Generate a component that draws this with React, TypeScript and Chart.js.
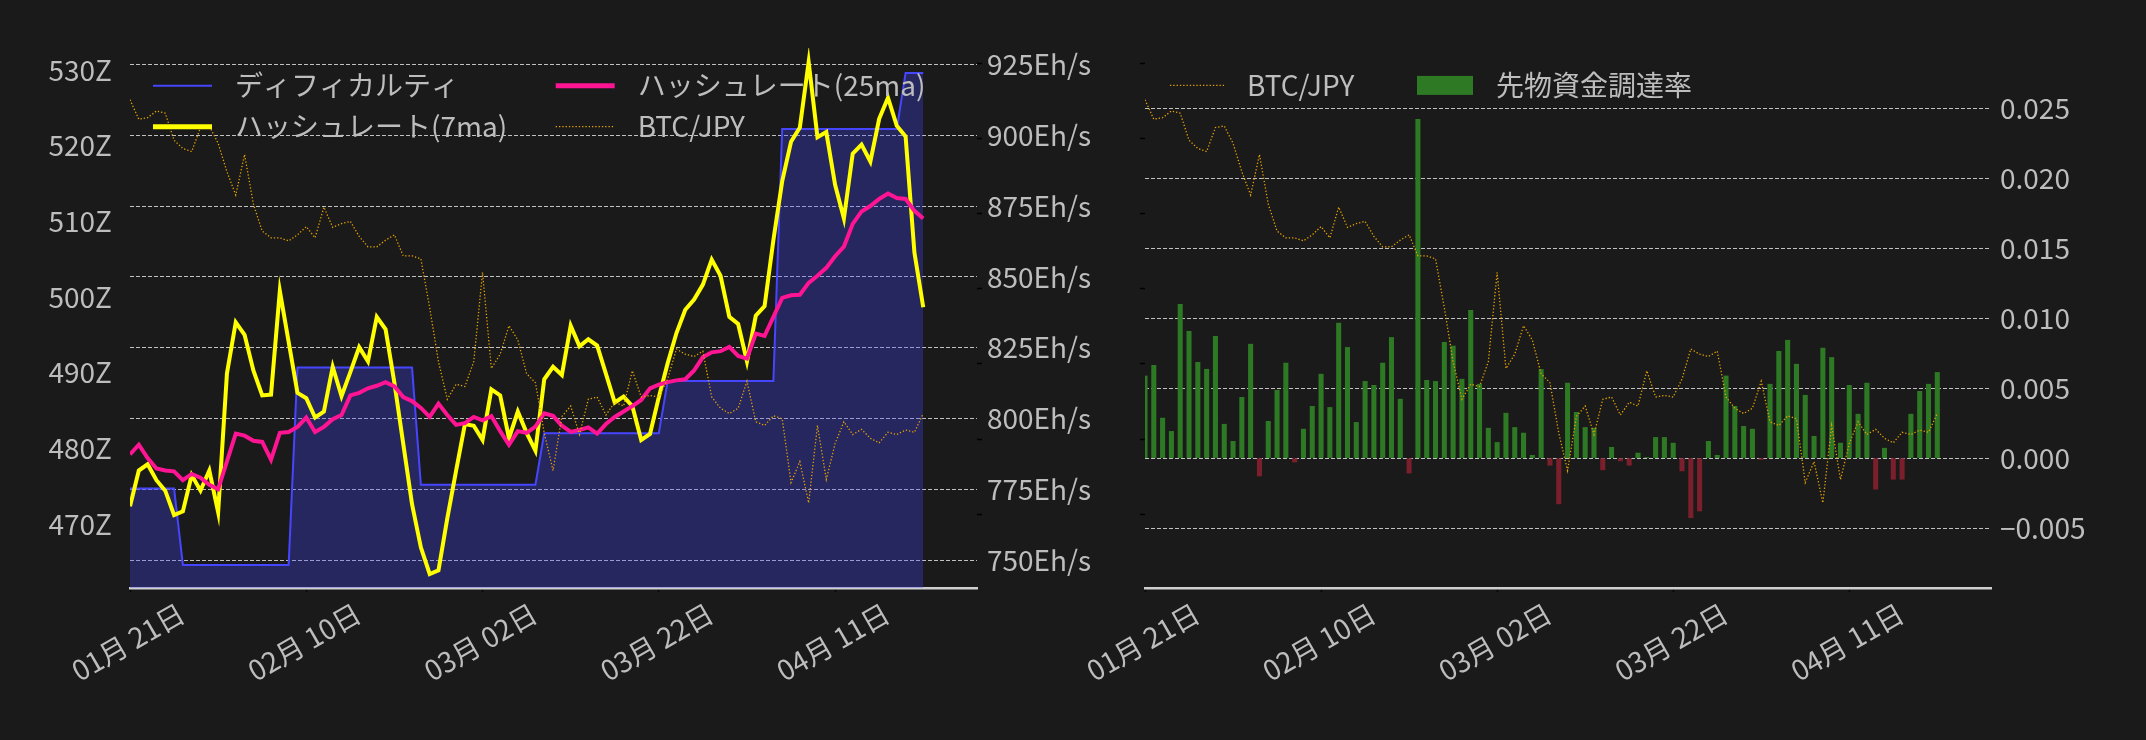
import { useEffect, useRef } from "react";
import Chart from "chart.js/auto";

// x values are days counted from 01/21
const xTickDays = [0, 20, 40, 60, 80];
const xTickLabels = ["01月 21日", "02月 10日", "03月 02日", "03月 22日", "04月 11日"];

// difficulty (Z)
const difficulty = [
  474.7, 474.7, 474.7, 474.7, 474.7, 474.7,
  464.6, 464.6, 464.6, 464.6, 464.6, 464.6, 464.6, 464.6, 464.6, 464.6, 464.6, 464.6, 464.6,
  490.7, 490.7, 490.7, 490.7, 490.7, 490.7, 490.7, 490.7, 490.7, 490.7, 490.7, 490.7, 490.7, 490.7,
  475.2, 475.2, 475.2, 475.2, 475.2, 475.2, 475.2, 475.2, 475.2, 475.2, 475.2, 475.2, 475.2, 475.2,
  482.0, 482.0, 482.0, 482.0, 482.0, 482.0, 482.0, 482.0, 482.0, 482.0, 482.0, 482.0, 482.0, 482.0,
  488.9, 488.9, 488.9, 488.9, 488.9, 488.9, 488.9, 488.9, 488.9, 488.9, 488.9, 488.9, 488.9,
  522.2, 522.2, 522.2, 522.2, 522.2, 522.2, 522.2, 522.2, 522.2, 522.2, 522.2, 522.2, 522.2, 522.2,
  529.6, 529.6, 529.6,
];

// hashrate 7 day average (Eh/s)
const hashrate7 = [
  769.1, 781.7, 783.9, 778.3, 774.6, 766.0, 767.3, 780.1, 774.6, 781.7,
  767.0, 816.0, 834.0, 829.6, 817.0, 808.2, 808.5, 845.1, 827.1, 809.1,
  807.2, 800.4, 802.5, 818.3, 807.9, 816.4, 825.2, 820.2, 835.9, 831.5,
  812.6, 791.2, 769.8, 754.6, 745.2, 746.5, 764.8, 781.7, 798.1, 797.5,
  792.5, 810.3, 808.2, 793.1, 802.5, 795.0, 788.7, 813.9, 818.3, 815.4,
  832.8, 825.5, 828.0, 825.8, 815.8, 805.7, 807.8, 804.4, 792.5, 794.6,
  807.6, 819.5, 830.2, 838.4, 842.0, 847.3, 856.1, 850.4, 835.9, 833.4,
  820.2, 836.3, 839.7, 863.0, 883.8, 897.7, 902.7, 925.8, 899.3, 901.1,
  882.5, 870.6, 893.5, 896.7, 890.7, 905.8, 913.2, 903.3, 899.5, 858.6,
  839.3,
];

// hashrate 25 day average (Eh/s)
const hashrate25 = [
  787.4, 790.8, 786.1, 782.4, 781.7, 781.4, 778.3, 780.5, 779.2, 776.7,
  775.1, 784.9, 794.7, 794.0, 792.2, 791.8, 785.5, 795.0, 795.3, 797.1,
  800.4, 795.3, 797.1, 799.8, 801.3, 808.2, 809.1, 810.7, 811.6, 812.9,
  811.4, 807.6, 806.2, 803.8, 800.6, 805.3, 801.3, 797.8, 798.4, 800.6,
  799.4, 800.9, 795.6, 790.8, 795.6, 795.0, 797.2, 801.9, 801.0, 797.5,
  795.3, 796.0, 796.9, 794.7, 798.1, 800.6, 802.5, 804.4, 806.6, 810.7,
  812.0, 812.9, 813.5, 813.9, 817.0, 821.7, 823.4, 823.8, 825.3, 822.1,
  821.2, 830.0, 829.2, 835.9, 842.6, 843.5, 843.7, 847.9, 850.4, 853.2,
  857.3, 860.7, 868.7, 873.1, 875.0, 877.5, 879.4, 877.8, 877.5, 873.3,
  870.6,
];

// BTC/JPY (million yen)
const btcJpy = [
  16.52, 16.26, 16.28, 16.37, 16.34, 15.98, 15.87, 15.83, 16.15, 16.17,
  15.94, 15.56, 15.25, 15.79, 15.13, 14.77, 14.68, 14.68, 14.64, 14.72,
  14.83, 14.68, 15.09, 14.82, 14.87, 14.9, 14.7, 14.56, 14.56, 14.65,
  14.72, 14.44, 14.44, 14.4, 13.75, 13.03, 12.53, 12.73, 12.7, 13.03,
  14.22, 12.94, 13.13, 13.51, 13.32, 12.87, 12.75, 12.08, 11.58, 12.3,
  12.44, 12.06, 12.53, 12.56, 12.32, 12.49, 12.44, 12.91, 12.56, 12.58,
  12.56, 12.8, 13.2, 13.13, 13.1, 13.17, 12.56, 12.41, 12.34, 12.41,
  12.77, 12.23, 12.18, 12.31, 12.27, 11.42, 11.7, 11.15, 12.18, 11.46,
  11.94, 12.23, 12.06, 12.13, 12.01, 11.95, 12.09, 12.06, 12.12, 12.09,
  12.34,
];

// futures funding rate
const fundingRate = [
  0.00587, 0.00663, 0.00286, 0.00191, 0.01099, 0.00906, 0.00684, 0.00635, 0.0087, 0.00242,
  0.0012, 0.00434, 0.00814, -0.00128, 0.00263, 0.00485, 0.00679, -0.00028, 0.00207, 0.0037,
  0.006, 0.00362, 0.00964, 0.00791, 0.00255, 0.00548, 0.0052, 0.00679, 0.00862, 0.00421,
  -0.00107, 0.02421, 0.00556, 0.00548, 0.00827, 0.00801, 0.00564, 0.01056, 0.00528, 0.00214,
  0.00112, 0.00321, 0.00219, 0.00179, 0.0002, 0.00633, -0.00051, -0.00327, 0.00536, 0.00327,
  0.00219, 0.00214, -0.00084, 0.00077, -0.0002, -0.00051, 0.00036, 0.00005, 0.00148, 0.00148,
  0.00107, -0.00092, -0.00426, -0.00378, 0.0012, 0.0002, 0.00587, 0.0037, 0.00227, 0.00207,
  -0.0001, 0.00528, 0.00763, 0.00842, 0.00671, 0.00449, 0.00156, 0.00786, 0.00719, 0.00107,
  0.0052, 0.00314, 0.00536, -0.00222, 0.00071, -0.00151, -0.00151, 0.00314, 0.00477, 0.00528,
  0.00612,
];

const diffTicks = [470, 480, 490, 500, 510, 520, 530];
const hashTicks = [750, 775, 800, 825, 850, 875, 900, 925];
const btcTicks = [11, 12, 13, 14, 15, 16, 17];
const fundingTicks = [-0.005, 0, 0.005, 0.01, 0.015, 0.02, 0.025];

const BG = "#1a1a1a";
const TEXT = "#bdbdbd";
const FONT = "'Noto Sans CJK JP', 'Noto Sans', sans-serif";
const FONT_SIZE = 28;
const GRID = "rgba(235,235,235,0.8)";
const BTC_COLOR = "#e8a200";
const GREEN = "#2e7a24";
const RED = "#7c1f2c";

const HEIGHT = 740;
const TOP = 48;
const BOTTOM = 588;
const X_MAX = 96.1;

const pts = (values: number[]) => values.map((y, x) => ({ x, y }));
const fixedTicks = (values: number[]) => (scale: any) => {
  scale.ticks = values.map((value) => ({ value }));
};

type LegendEntry = { text: string; kind: "line" | "dotted" | "patch"; color: string; width: number; dx: number; dy: number; len: number };

const makeLegend = (entries: LegendEntry[]) => ({
  id: "fixedLegend",
  afterDraw(chart: any) {
    const { ctx, chartArea } = chart;
    ctx.save();
    ctx.font = `${FONT_SIZE}px ${FONT}`;
    ctx.textBaseline = "middle";
    ctx.textAlign = "left";
    for (const e of entries) {
      const x = chartArea.left + e.dx;
      const y = chartArea.top + e.dy;
      if (e.kind === "patch") {
        ctx.fillStyle = e.color;
        ctx.fillRect(x, y - 9.5, e.len, 19);
      } else {
        ctx.strokeStyle = e.color;
        ctx.lineWidth = e.width;
        ctx.setLineDash(e.kind === "dotted" ? [1.3, 2] : []);
        ctx.beginPath();
        ctx.moveTo(x, y);
        ctx.lineTo(x + e.len, y);
        ctx.stroke();
        ctx.setLineDash([]);
      }
      ctx.fillStyle = TEXT;
      ctx.fillText(e.text, x + e.len + 23, y);
    }
    ctx.restore();
  },
});

const dateLabels = {
  id: "dateLabels",
  afterDraw(chart: any) {
    const { ctx, chartArea, scales } = chart;
    ctx.save();
    ctx.font = `${FONT_SIZE}px ${FONT}`;
    ctx.fillStyle = TEXT;
    ctx.textAlign = "center";
    ctx.textBaseline = "middle";
    xTickDays.forEach((d, k) => {
      ctx.save();
      ctx.translate(scales.x.getPixelForValue(d) - 2, chartArea.bottom + 54);
      ctx.rotate(-Math.PI / 6);
      ctx.fillText(xTickLabels[k], 0, 0);
      ctx.restore();
    });
    ctx.restore();
  },
};

const xScale = () => ({
  type: "linear" as const,
  min: 0,
  max: X_MAX,
  offset: false,
  afterBuildTicks: fixedTicks(xTickDays),
  ticks: { display: false },
  grid: { display: true, offset: false, drawOnChartArea: false, drawTicks: true, tickLength: 4, tickColor: "#050505", tickWidth: 1.5 },
  border: { display: true, color: "#cfcfcf", width: 2.5 },
  afterFit: (s: any) => {
    s.height = HEIGHT - BOTTOM;
  },
});

const tickFont = { family: FONT, size: FONT_SIZE };

const btcScale = (position: "left" | "right") => ({
  position,
  weight: 0,
  min: 10.016,
  max: 17.209,
  afterBuildTicks: fixedTicks(btcTicks),
  ticks: { display: false },
  grid: { display: true, drawOnChartArea: false, drawTicks: true, tickLength: 5, tickColor: "#000", tickWidth: 1.5 },
  border: { display: false },
  afterFit: (s: any) => {
    s.width = 0;
  },
});

function HashrateChart() {
  const ref = useRef<HTMLCanvasElement>(null);
  useEffect(() => {
    const ctx = ref.current?.getContext("2d");
    if (!ctx) return;
    const chart = new Chart(ctx, {
      type: "line",
      data: {
        datasets: [
          { label: "BTC/JPY", data: pts(btcJpy), yAxisID: "yBtc", borderColor: BTC_COLOR, borderWidth: 1.3, borderDash: [1.3, 2], pointRadius: 0, order: 0 },
          { label: "ハッシュレート(25ma)", data: pts(hashrate25), yAxisID: "yHash", borderColor: "#ff1493", borderWidth: 4, pointRadius: 0, order: 1 },
          { label: "ハッシュレート(7ma)", data: pts(hashrate7), yAxisID: "yHash", borderColor: "#ffff00", borderWidth: 4, pointRadius: 0, order: 2 },
          {
            label: "ディフィカルティ",
            data: pts(difficulty),
            yAxisID: "yDiff",
            borderColor: "#4646ff",
            borderWidth: 2,
            backgroundColor: "rgba(70,70,255,0.3)",
            fill: "start",
            pointRadius: 0,
            order: 3,
          },
        ],
      },
      options: {
        responsive: false,
        animation: false,
        devicePixelRatio: 1,
        layout: { padding: { top: TOP, left: 0, right: 0, bottom: 0 } },
        plugins: { legend: { display: false }, tooltip: { enabled: false } },
        scales: {
          x: xScale(),
          yDiff: {
            position: "left",
            min: 461.55,
            max: 532.9,
            afterBuildTicks: fixedTicks(diffTicks),
            ticks: { color: TEXT, font: tickFont, padding: 10, callback: (v: any) => `${v}Z` },
            grid: { display: false },
            border: { display: false },
            afterFit: (s: any) => {
              s.width = 130;
            },
          },
          yBtc: btcScale("right"),
          yHash: {
            position: "right",
            weight: 1,
            min: 740.26,
            max: 930.75,
            afterBuildTicks: fixedTicks(hashTicks),
            ticks: { color: TEXT, font: tickFont, padding: 10, callback: (v: any) => `${v}Eh/s` },
            grid: { color: GRID, lineWidth: 1, drawTicks: false },
            border: { display: false, dash: [4, 2] },
            afterFit: (s: any) => {
              s.width = 1110 - 977;
            },
          },
        },
      } as any,
      plugins: [
        makeLegend([
          { text: "ディフィカルティ", kind: "line", color: "#4646ff", width: 2, dx: 23, dy: 37.7, len: 59 },
          { text: "ハッシュレート(7ma)", kind: "line", color: "#ffff00", width: 5, dx: 23, dy: 78.7, len: 59 },
          { text: "ハッシュレート(25ma)", kind: "line", color: "#ff1493", width: 5, dx: 425.7, dy: 37.7, len: 59 },
          { text: "BTC/JPY", kind: "dotted", color: BTC_COLOR, width: 1.3, dx: 425.7, dy: 78.7, len: 59 },
        ]),
        dateLabels,
      ],
    });
    return () => chart.destroy();
  }, []);
  return <canvas ref={ref} width={1110} height={HEIGHT} style={{ position: "absolute", left: 0, top: 0 }} />;
}

function FundingChart() {
  const ref = useRef<HTMLCanvasElement>(null);
  useEffect(() => {
    const ctx = ref.current?.getContext("2d");
    if (!ctx) return;
    const chart = new Chart(ctx, {
      type: "bar",
      data: {
        datasets: [
          { type: "line", label: "BTC/JPY", data: pts(btcJpy), yAxisID: "yBtc", borderColor: BTC_COLOR, borderWidth: 1.3, borderDash: [1.3, 2], pointRadius: 0, order: 0 },
          {
            type: "bar",
            label: "先物資金調達率",
            data: pts(fundingRate),
            yAxisID: "yRate",
            backgroundColor: fundingRate.map((v) => (v >= 0 ? GREEN : RED)),
            barThickness: 4.4,
            order: 1,
          },
        ],
      },
      options: {
        responsive: false,
        animation: false,
        devicePixelRatio: 1,
        layout: { padding: { top: TOP, left: 72, right: 0, bottom: 0 } },
        plugins: { legend: { display: false }, tooltip: { enabled: false } },
        scales: {
          x: xScale(),
          yBtc: btcScale("left"),
          yRate: {
            position: "right",
            min: -0.00928,
            max: 0.0293,
            z: 1,
            afterBuildTicks: fixedTicks(fundingTicks),
            ticks: {
              color: TEXT,
              font: tickFont,
              padding: 9,
              callback: (v: any) => (v < 0 ? "\u2212" : "") + Math.abs(v).toFixed(3),
            },
            grid: { color: GRID, lineWidth: 1, drawTicks: false },
            border: { display: false, dash: [4, 2] },
            afterFit: (s: any) => {
              s.width = 155;
            },
          },
        },
      } as any,
      plugins: [
        makeLegend([
          { text: "BTC/JPY", kind: "dotted", color: BTC_COLOR, width: 1.3, dx: 25, dy: 37.4, len: 54 },
          { text: "先物資金調達率", kind: "patch", color: GREEN, width: 0, dx: 272, dy: 37.4, len: 56 },
        ]),
        dateLabels,
      ],
    });
    return () => chart.destroy();
  }, []);
  return <canvas ref={ref} width={1073} height={HEIGHT} style={{ position: "absolute", left: 1073, top: 0 }} />;
}

export default function App() {
  return (
    <div style={{ position: "fixed", left: 0, top: 0, width: 2146, height: HEIGHT, background: BG, overflow: "hidden" }}>
      <HashrateChart />
      <FundingChart />
    </div>
  );
}
